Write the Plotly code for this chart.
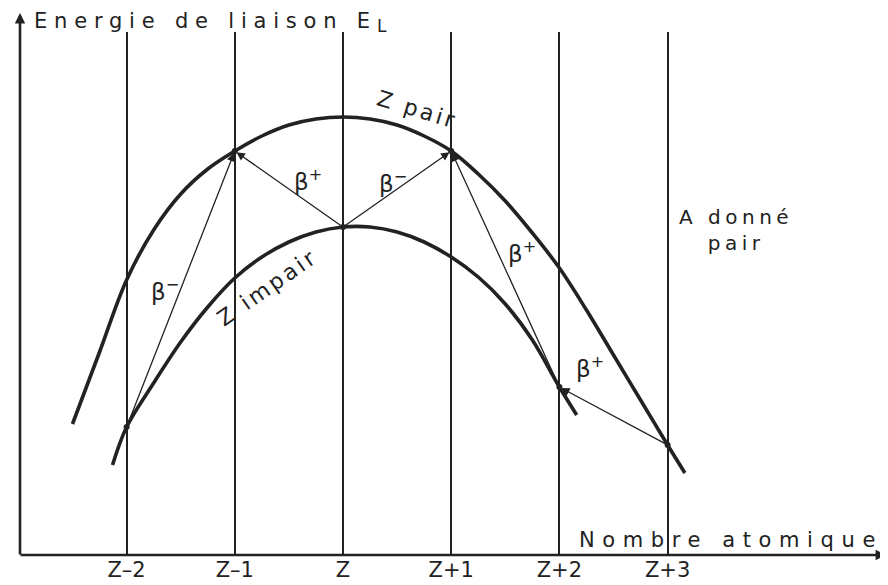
import plotly.graph_objects as go

# ---- data (arbitrary binding-energy units) ----
z_pos = [-2, -1, 0, 1, 2, 3]
z_labels = ["Z–2", "Z–1", "Z", "Z+1", "Z+2", "Z+3"]

# upper parabola : Z pair
pair_t = [-2.5, -2.25, -2.0, -1.75, -1.5, -1.25, -1.0, -0.75, -0.5, -0.25, 0.0,
          0.25, 0.5, 0.75, 1.0, 1.25, 1.5, 1.75, 2.0, 2.25, 2.5, 2.75, 3.0, 3.16]
pair_E = [131, 203, 275, 325, 361, 386, 404, 419, 430, 436, 438,
          436, 430, 419, 404, 381, 354, 322, 287, 245, 200, 155, 110, 82]

# lower parabola : Z impair
imp_t = [-2.13, -2.0, -1.75, -1.5, -1.25, -1.0, -0.75, -0.5, -0.25, 0.0,
         0.25, 0.5, 0.75, 1.0, 1.25, 1.5, 1.75, 2.0, 2.16]
imp_E = [90, 128, 172, 213, 248, 277, 298, 313, 323, 328,
         328, 323, 313, 298, 278, 251, 215, 168, 140]

# beta transitions: (from Z, from curve, to Z, to curve)
transitions = [
    (-2, "imp", -1, "pair"),
    (0, "imp", -1, "pair"),
    (0, "imp", 1, "pair"),
    (2, "imp", 1, "pair"),
    (3, "pair", 2, "imp"),
]
beta_labels = ["β<sup>−</sup>", "β<sup>+</sup>", "β<sup>−</sup>", "β<sup>+</sup>", "β<sup>+</sup>"]

INK = "#222222"
FONT = "DejaVu Sans"


def node(z, curve):
    t, e = (pair_t, pair_E) if curve == "pair" else (imp_t, imp_E)
    return e[t.index(float(z))]


def spaced(s, ls):
    return f'<span style="letter-spacing:{ls}px">{s}</span>'


fig = go.Figure()
for tt, ee in ((pair_t, pair_E), (imp_t, imp_E)):
    fig.add_trace(go.Scatter(x=tt, y=ee, mode="lines",
                             line=dict(color=INK, width=3.6, shape="spline", smoothing=1.0),
                             hoverinfo="skip", showlegend=False))

nodes_x, nodes_y = [], []
for z in z_pos:
    c = "imp" if z % 2 == 0 else "pair"
    nodes_x.append(z)
    nodes_y.append(node(z, c))
fig.add_trace(go.Scatter(x=nodes_x, y=nodes_y, mode="markers",
                         marker=dict(color=INK, size=6), hoverinfo="skip", showlegend=False))

annotations = []
for z0, c0, z1, c1 in transitions:
    annotations.append(dict(x=z1, y=node(z1, c1), ax=z0, ay=node(z0, c0),
                            xref="x", yref="y", axref="x", ayref="y", text="",
                            showarrow=True, arrowhead=2, arrowsize=1.3, arrowwidth=1.3,
                            arrowcolor=INK, standoff=2))

# beta labels (layout positions)
beta_xy = [(-1.645, 265), (-0.323, 375), (0.462, 373), (1.654, 303), (2.283, 188)]
for (x, y), t in zip(beta_xy, beta_labels):
    annotations.append(dict(x=x, y=y, xref="x", yref="y", text=t, showarrow=False,
                            font=dict(family=FONT, size=23, color=INK)))

# curve labels
annotations.append(dict(x=0.684, y=446, xref="x", yref="y", text=spaced("Z pair", 3), showarrow=False,
                        textangle=17, font=dict(family=FONT, size=22, color=INK)))
annotations.append(dict(x=-0.70, y=268, xref="x", yref="y", text=spaced("Z impair", 3), showarrow=False,
                        textangle=-35, font=dict(family=FONT, size=22, color=INK)))
annotations.append(dict(x=3.632, y=325, xref="x", yref="y",
                        text=spaced("A donné", 4.5) + "<br>" + spaced("pair", 4.5), showarrow=False,
                        align="center", font=dict(family=FONT, size=20, color=INK)))
annotations.append(dict(x=3.59, y=15, xref="x", yref="y", text=spaced("Nombre atomique", 7.6),
                        showarrow=False, font=dict(family=FONT, size=21, color=INK)))
annotations.append(dict(x=0.0138, y=1.019, xref="paper", yref="paper", xanchor="left", yanchor="middle",
                        text=spaced("Energie de liaison E", 6.8)
                        + '<sub><span style="font-size:17px">L</span></sub>',
                        showarrow=False, font=dict(family=FONT, size=21, color=INK)))

# axes drawn as arrows
annotations.append(dict(x=0, y=1 + (32 - 13) / 523, xref="paper", yref="paper", ax=0, ay=543,
                        axref="pixel", ayref="pixel", text="", showarrow=True, arrowhead=2,
                        arrowsize=0.8, arrowwidth=2.6, arrowcolor=INK))
annotations.append(dict(x=(886 - 20) / 868, y=0, xref="paper", yref="paper", ax=-867, ay=0,
                        axref="pixel", ayref="pixel", text="", showarrow=True, arrowhead=2,
                        arrowsize=0.8, arrowwidth=2.6, arrowcolor=INK))

# page body has an 8px margin: figure is 880x577 so it ends at the window edge
fig.update_layout(
    width=880, height=577,
    margin=dict(l=12, r=0, t=24, b=30),
    paper_bgcolor="white", plot_bgcolor="white",
    annotations=annotations,
    xaxis=dict(range=[(20 - 343) / 108.2, (888 - 343) / 108.2], tickvals=z_pos, ticktext=z_labels,
               showgrid=True, gridcolor=INK, gridwidth=1.6, zeroline=False, showline=False,
               ticks="", tickfont=dict(family=FONT, size=21, color=INK), fixedrange=True),
    yaxis=dict(range=[0, 523], showgrid=False, zeroline=False, showline=False,
               showticklabels=False, fixedrange=True),
)

fig.write_html("out.html")
